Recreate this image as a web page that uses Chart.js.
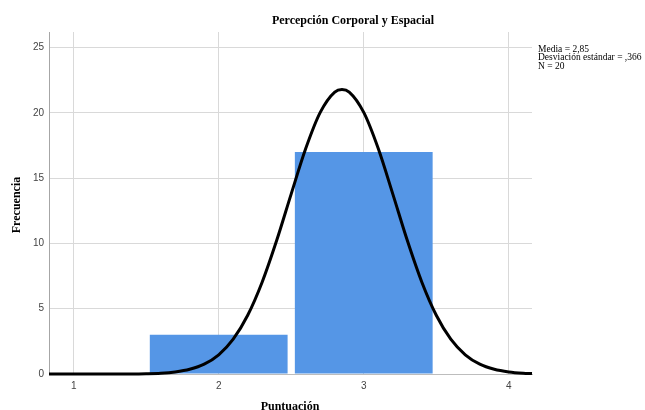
<!DOCTYPE html>
<html lang="es">
<head>
  <meta charset="UTF-8" />
  <title>Percepción Corporal y Espacial</title>
  <script src="https://cdn.jsdelivr.net/npm/chart.js"></script>
  <style>
    body {
      margin: 0;
      background: #fff;
    }
    #histChart {
      display: block;
    }
  </style>
</head>
<body>
  <canvas id="histChart" width="645" height="410"></canvas>

  <script>
    // Histogram bins (centre of bin) and counts
    const binCenters = [2, 3];
    const binCounts = [3, 17];

    // Normal curve (x = puntuación, y = frecuencia)
    const curveX = [0.83, 1.0, 1.2, 1.4, 1.5, 1.6, 1.7, 1.8, 1.9, 2.0, 2.1, 2.2, 2.3, 2.4, 2.5, 2.6, 2.7, 2.8, 2.85,
                    2.9, 3.0, 3.1, 3.2, 3.3, 3.4, 3.5, 3.6, 3.7, 3.8, 3.9, 4.0, 4.1, 4.16];
    const curveY = [0, 0, 0, 0.003, 0.02, 0.06, 0.16, 0.36, 0.75, 1.47, 2.67, 4.5, 7.05, 10.24, 13.8, 17.27, 20.04, 21.6, 21.8,
                    21.6, 20.04, 17.27, 13.8, 10.24, 7.05, 4.5, 2.67, 1.47, 0.75, 0.36, 0.16, 0.06, 0.03];

    const xTicks = [1, 2, 3, 4];
    const yTicks = [0, 5, 10, 15, 20, 25];

    const chartTitle = 'Percepción Corporal y Espacial';
    const statsLines = ['Media = 2,85', 'Desviación estándar = ,366', 'N = 20'];

    const serif = '"Liberation Serif", "Times New Roman", serif';

    // titles and the stats box, drawn by hand to sit where SPSS puts them
    const textPlugin = {
      id: 'spssText',
      afterDraw(chart) {
        const ctx = chart.ctx;
        ctx.save();
        ctx.fillStyle = '#000';
        ctx.font = 'bold 12px ' + serif;
        ctx.textAlign = 'center';
        ctx.textBaseline = 'middle';
        ctx.fillText(chartTitle, 353, 21);

        ctx.fillText('Puntuación', 290, 407);

        ctx.save();
        ctx.translate(17, 205);
        ctx.rotate(-Math.PI / 2);
        ctx.fillText('Frecuencia', 0, 0);
        ctx.restore();

        ctx.font = '9.5px ' + serif;
        ctx.textAlign = 'left';
        statsLines.forEach((line, i) => {
          ctx.fillText(line, 538, 49 + i * 8.5);
        });
        ctx.restore();
      }
    };

    const ctx = document.getElementById('histChart').getContext('2d');
    const histChart = new Chart(ctx, {
      data: {
        datasets: [
          {
            type: 'line',
            label: 'Normal',
            data: curveX.map((x, i) => ({ x: x, y: curveY[i] })),
            borderColor: '#000',
            borderWidth: 3,
            pointRadius: 0,
            fill: false,
            cubicInterpolationMode: 'monotone',
            clip: 6,
            order: 1
          },
          {
            type: 'bar',
            label: 'Frecuencia',
            data: binCenters.map((x, i) => ({ x: x, y: binCounts[i] })),
            backgroundColor: '#5596e6',
            borderWidth: 0,
            barPercentage: 0.95,
            categoryPercentage: 1,
            order: 2
          }
        ]
      },
      options: {
        responsive: false,
        animation: false,
        layout: {
          padding: { left: 0, top: 32, right: 113, bottom: 0 }
        },
        plugins: {
          legend: { display: false },
          tooltip: { enabled: false },
          title: { display: false }
        },
        scales: {
          x: {
            type: 'linear',
            offset: false,
            min: 0.83,
            max: 4.16,
            afterBuildTicks: (scale) => {
              scale.ticks = xTicks.map(v => ({ value: v }));
            },
            afterFit: (scale) => { scale.height = 36; },
            grid: {
              offset: false,
              color: '#d9d9d9',
              lineWidth: 1,
              tickLength: 0,
              drawTicks: false
            },
            border: { color: '#bdbdbd', width: 1 },
            ticks: {
              color: '#444',
              padding: 6,
              font: { family: '"Liberation Sans", Arial, sans-serif', size: 10 }
            }
          },
          y: {
            min: 0,
            max: 26.2,
            afterBuildTicks: (scale) => {
              scale.ticks = yTicks.map(v => ({ value: v }));
            },
            afterFit: (scale) => { scale.width = 49; },
            grid: {
              color: '#d9d9d9',
              lineWidth: 1,
              drawTicks: false
            },
            border: { color: '#a6a6a6', width: 1 },
            ticks: {
              color: '#444',
              padding: 5,
              font: { family: '"Liberation Sans", Arial, sans-serif', size: 10 }
            }
          }
        }
      },
      plugins: [textPlugin]
    });
  </script>
</body>
</html>
